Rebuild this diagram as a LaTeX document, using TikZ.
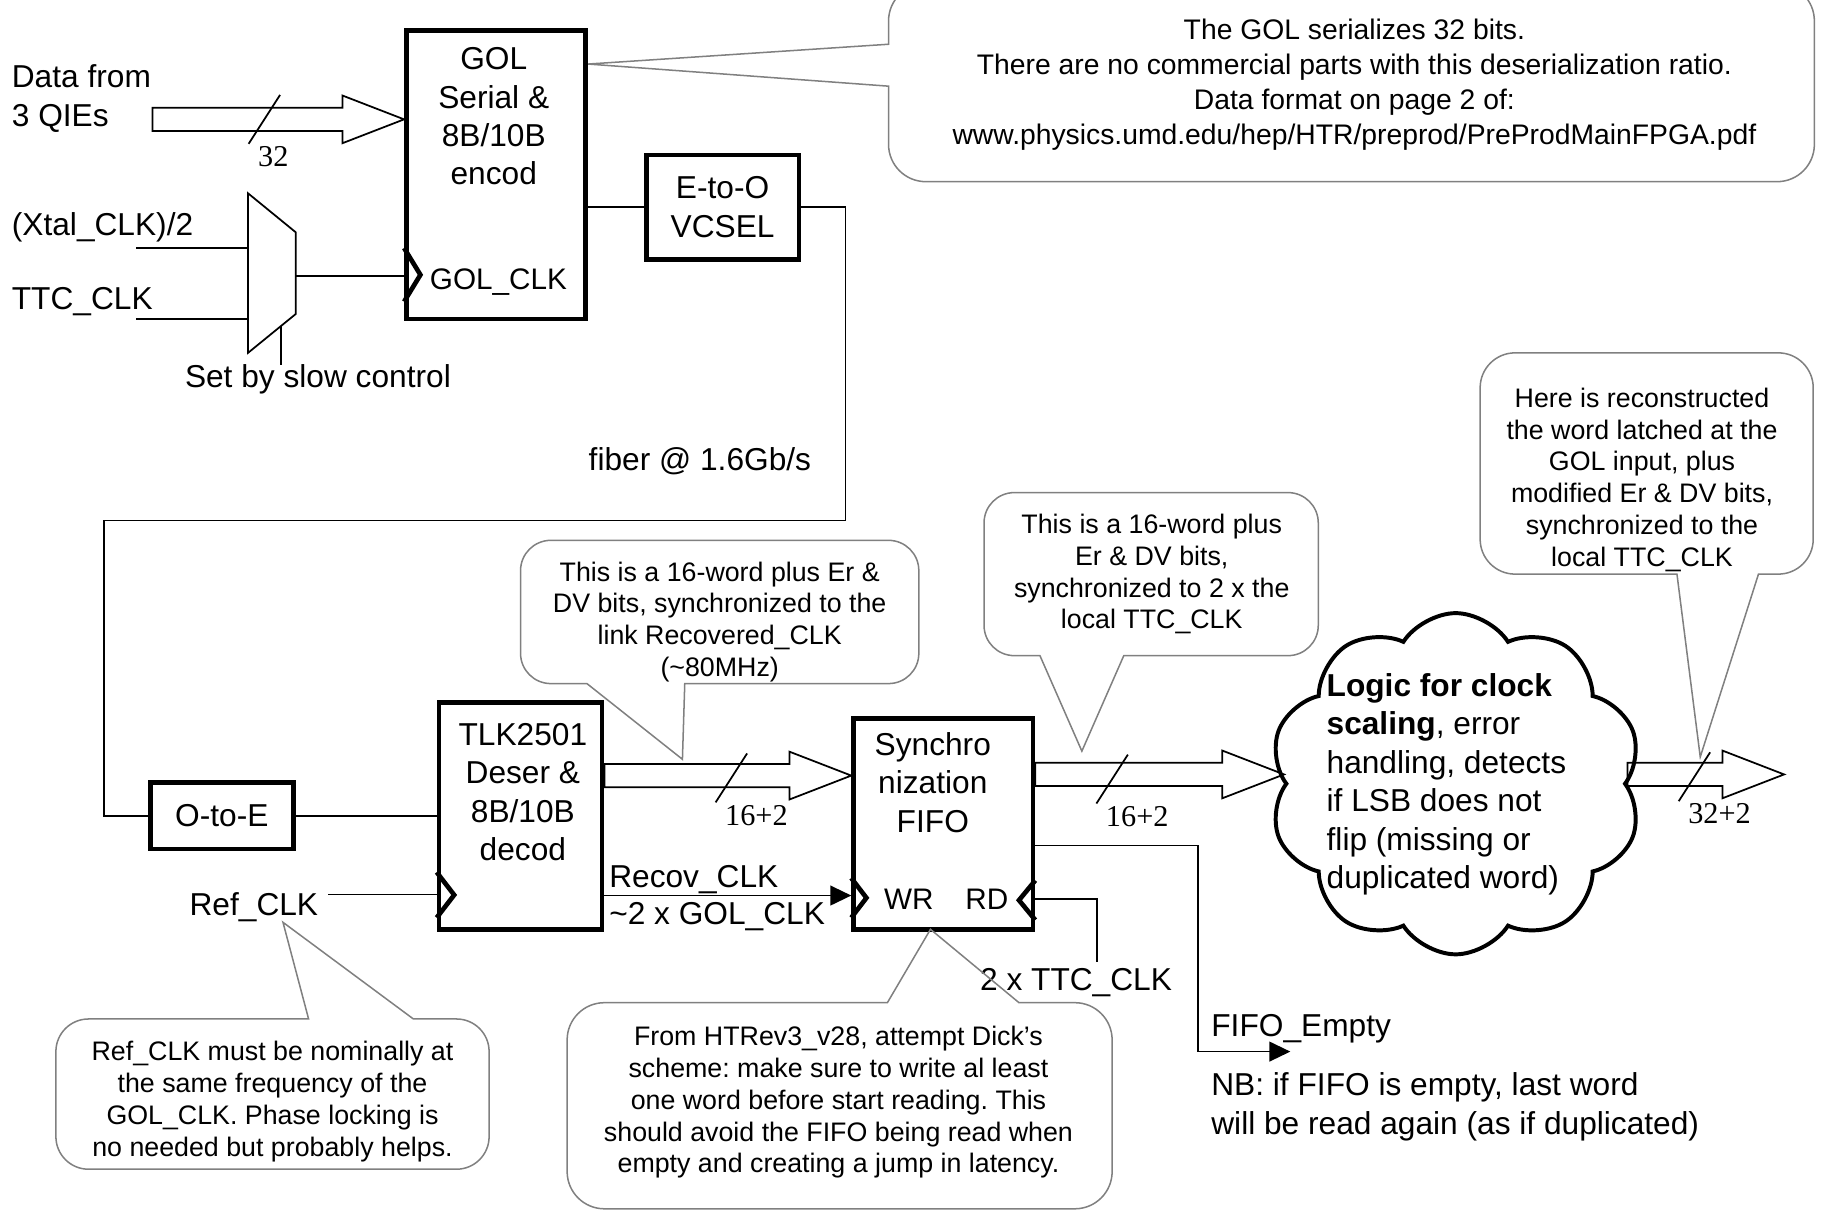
\documentclass[tikz,border=0pt]{standalone}
\usepackage{fontspec}
\setmainfont{Liberation Sans}
\newfontfamily\serifnum{Liberation Serif}
\usetikzlibrary{positioning,calc,arrows.meta,shapes.symbols}
\frenchspacing

\newcommand\bigtext{\fontsize{27.2}{33}\selectfont}
\newcommand\pintext{\fontsize{25.5}{30}\selectfont}
\newcommand\notetext{\fontsize{23}{27.3}\selectfont}
\newcommand\toptext{\fontsize{24.3}{30}\selectfont}
\newcommand\numtext{\serifnum\fontsize{26}{30}\selectfont}

\newcommand{\busarrow}[2]{%
  \draw[busline] let \p1=#1, \p2=#2 in
    (\x1,\y2+10pt) -- (\x2-53pt,\y2+10pt) -- (\x2-53pt,\y2+20.5pt) -- (\x2,\y2)
    -- (\x2-53pt,\y2-20.5pt) -- (\x2-53pt,\y2-10pt) -- (\x1,\y2-10pt) -- cycle;}
\newcommand{\buswidth}[3]{%
  \draw[wire] #1 ++(-13.5,21) -- ++(27,-42);
  \node[buslabel] (#3) at ($#1+(-5.5,32)$) {#2};}

\begin{document}
\begin{tikzpicture}[x=1pt, y=-1pt,
    block/.style={draw, line width=4pt, inner sep=0pt, align=center, font=\bigtext},
    txt/.style={inner sep=0pt, font=\bigtext},
    note/.style={align=center, inner sep=0pt, font=\notetext},
    bubble/.style={draw=gray, line width=1.3pt},
    wire/.style={line width=1.5pt},
    sig/.style={wire, -{Triangle[length=18pt,width=17pt]}},
    busline/.style={line width=1.5pt, line join=miter},
    clkline/.style={line width=4pt},
    buslabel/.style={anchor=west, inner sep=0pt, font=\numtext}]
  \useasboundingbox (0,0) rectangle (1568,1040);

  \node[block, minimum width=154pt, minimum height=248pt] (gol) at (426,150) {};
  \node[block, minimum width=131pt, minimum height=90pt] (eto) at (620.5,178) {E-to-O\\VCSEL};
  \node[block, minimum width=123pt, minimum height=57pt] (ote) at (190.5,700.5) {O-to-E};
  \node[block, minimum width=140pt, minimum height=195pt] (tlk) at (447,700.5) {};
  \node[block, minimum width=154pt, minimum height=181pt] (fifo) at (810,707.5) {};
  \node[cloud, draw, line width=3.4pt, cloud puffs=10, cloud puff arc=115, cloud ignores aspect,
        minimum width=320pt, minimum height=293pt, inner sep=0pt] (logic) at (1250,673) {};

  \node[txt, align=center] (golname) at (424,100) {GOL\\Serial \&\\8B/10B\\encod};
  \node[txt, anchor=west, font=\pintext] (golclk) at (369,242) {GOL\_CLK};
  \node[txt, align=center] (tlkname) at (449,680) {TLK2501\\Deser \&\\8B/10B\\decod};
  \node[txt, align=center] (fifoname) at (801,672) {Synchro\\nization\\FIFO};
  \node[txt, anchor=west, font=\pintext] (wr) at (759,772) {WR};
  \node[txt, anchor=east, font=\pintext] (rd) at (866,772) {RD};
  \node[txt, align=left, anchor=west] (logictext) at (1139,673.5)
    {\textbf{Logic for clock}\\\textbf{scaling}, error\\handling, detects\\if LSB does not\\flip (missing or\\duplicated word)};

  \node[txt, align=left, anchor=west] (qie) at (10,84.5) {Data from\\3 QIEs};
  \node[txt, anchor=west] (xtal) at (10,195) {(Xtal\_CLK)/2};
  \node[txt, anchor=west] (ttc) at (10,259) {TTC\_CLK};
  \node[txt] (slow) at (273,326) {Set by slow control};
  \node[txt] (fiber) at (601,396) {fiber @ 1.6Gb/s};
  \node[txt] (refclk) at (218,779) {Ref\_CLK};
  \node[txt, anchor=west] (recov) at (523,755) {Recov\_CLK};
  \node[txt, anchor=west] (recovx) at (523,787) {\textasciitilde2 x GOL\_CLK};
  \node[txt] (rdclk) at (924,844) {2 x TTC\_CLK};
  \node[txt, anchor=west] (empty) at (1040,883) {FIFO\_Empty};
  \node[txt, align=left, anchor=west] (nb) at (1040,950.5)
    {NB: if FIFO is empty, last word\\will be read again (as if duplicated)};

  \coordinate (muxnw) at (213,166);
  \coordinate (muxne) at (254,199.5);
  \coordinate (muxse) at (254,269.6);
  \coordinate (muxsw) at (213,303);
  \draw[wire] (muxnw) -- (muxne) -- (muxse) -- (muxsw) -- cycle;
  \coordinate (xtalin) at (117,213);
  \coordinate (ttcin) at (117,274);
  \coordinate (muxout) at (254,237);
  \coordinate (muxsel) at (241,280);
  \draw[wire] (xtalin) -- (xtalin -| muxnw);
  \draw[wire] (ttcin) -- (ttcin -| muxnw);
  \draw[wire] (muxout) -- (muxout -| gol.west);
  \draw[wire] (muxsel) -- (muxsel |- slow.north);

  \draw[clkline] (gol.west |- 0,213) -- ++(14,23) -- ++(-14,23);
  \draw[clkline] (tlk.west |- 0,749) -- ++(15,19.5) -- ++(-15,19.5);
  \draw[clkline] (fifo.west |- 0,754) -- ++(13,17) -- ++(-13,17);
  \draw[clkline] (fifo.east |- 0,756) -- ++(-14,17) -- ++(14,17);

  \coordinate (fiberne) at (726,447);
  \coordinate (fibersw) at (89,447);
  \draw[wire] (eto.west -| gol.east) -- (eto.west);
  \draw[wire] (eto.east) -| (fiberne) -- (fibersw) |- (ote.west);
  \draw[wire] (ote.east) -- (ote.east -| tlk.west);
  \coordinate (refin) at (282,768);
  \draw[wire] (refin) -- (refin -| tlk.west);
  \coordinate (recovy) at (0,769);
  \draw[sig] (tlk.east |- recovy) -- (fifo.west |- recovy);
  \coordinate (rdin) at (942,826);
  \draw[wire] (rdin) |- (fifo.east |- 0,772);
  \coordinate (emptyturn) at (1029,903);
  \coordinate (emptyout) at (1108,903);
  \draw[sig] (fifo.east |- 0,726) -| (emptyturn) -- (emptyout);

  \coordinate (busa) at (0,102.5);
  \coordinate (qiein) at (131,102.5);
  \coordinate (busb) at (0,666);
  \coordinate (busc) at (0,665);
  \coordinate (outtip) at (1532,665);
  \busarrow{(qiein)}{(gol.west |- busa)}
  \busarrow{(tlk.east |- busb)}{(fifo.west |- busb)}
  \busarrow{(fifo.east |- busc)}{(logic.west |- busc)}
  \busarrow{(logic.east |- busc)}{(outtip)}
  \buswidth{(227,102.5)}{32}{w32}
  \buswidth{(628,668)}{16+2}{wsync}
  \buswidth{(955,669)}{16+2}{wlogic}
  \buswidth{(1455,667)}{32+2}{wout}

  \draw[bubble] (763,74) [rounded corners=32pt] -- (763,156) -- (1558,156) -- (1558,-14) -- (763,-14) [sharp corners] -- (763,38) -- (505,55) -- cycle;
  \draw[bubble] (504,587) [rounded corners=26pt] -- (447,587) -- (447,464) -- (789,464) -- (789,587) [sharp corners] -- (588,587) -- (586,652) -- cycle;
  \draw[bubble] (893,563) [rounded corners=26pt] -- (845,563) -- (845,423) -- (1132,423) -- (1132,563) [sharp corners] -- (965,563) -- (929,645) -- cycle;
  \draw[bubble] (1440,493) [rounded corners=30pt] -- (1271,493) -- (1271,303) -- (1557,303) -- (1557,493) [sharp corners] -- (1510,493) -- (1460,650) -- cycle;
  \draw[bubble] (265,875) [rounded corners=28pt] -- (48,875) -- (48,1004) -- (420,1004) -- (420,875) [sharp corners] -- (355,875) -- (243,792) -- cycle;
  \draw[bubble] (762,861) [rounded corners=32pt] -- (487,861) -- (487,1038) -- (955,1038) -- (955,861) [sharp corners] -- (875,861) -- (799,798) -- cycle;

  \node[note, font=\toptext] (golnote) at (1163,73) {The GOL serializes 32 bits.\\There are no commercial parts with this deserialization ratio.\\Data format on page 2 of:\\www.physics.umd.edu/hep/HTR/preprod/PreProdMainFPGA.pdf};
  \node[note] (recnote) at (618,534) {This is a 16-word plus Er \&\\DV bits, synchronized to the\\link Recovered\_CLK\\(\textasciitilde80MHz)};
  \node[note] (syncnote) at (989,493) {This is a 16-word plus\\Er \& DV bits,\\synchronized to 2 x the\\local TTC\_CLK};
  \node[note] (outnote) at (1410,412) {Here is reconstructed\\the word latched at the\\GOL input, plus\\modified Er \& DV bits,\\synchronized to the\\local TTC\_CLK};
  \node[note] (refnote) at (234,946) {Ref\_CLK must be nominally at\\the same frequency of the\\GOL\_CLK. Phase locking is\\no needed but probably helps.};
  \node[note] (fifonote) at (720,946.6) {From HTRev3\_v28, attempt Dick's\\scheme: make sure to write al least\\one word before start reading. This\\should avoid the FIFO being read when\\empty and creating a jump in latency.};
\end{tikzpicture}
\end{document}
